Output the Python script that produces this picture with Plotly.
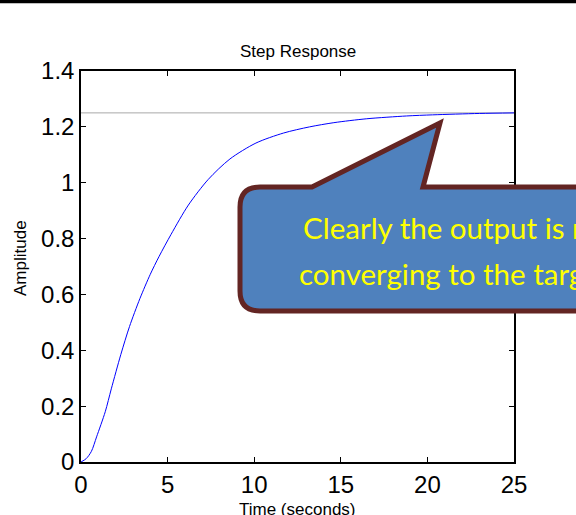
import plotly.graph_objects as go

# ---- data ----
time_s = [0, 0.3, 0.6, 0.9, 1.4, 1.75, 2.3, 2.8, 3.4, 4.0, 4.5, 5.2, 6.2,
          7.35, 8.6, 10.1, 11.7, 13.2, 14.6, 16.5, 18.8, 20.3, 23.0, 25]
amplitude = [0, 0.012, 0.038, 0.09, 0.18, 0.262, 0.385, 0.485, 0.585, 0.672, 0.735,
             0.815, 0.92, 1.012, 1.085, 1.142, 1.178, 1.200, 1.215, 1.229, 1.239,
             1.243, 1.248, 1.25]
final_value = 1.25
x_ticks = [0, 5, 10, 15, 20, 25]
x_tick_labels = ["0", "5", "10", "15", "20", "25"]
y_ticks = [0, 0.2, 0.4, 0.6, 0.8, 1.0, 1.2, 1.4]
y_tick_labels = ["0", "0.2", "0.4", "0.6", "0.8", "1", "1.2", "1.4"]
callout_lines = ["Clearly the output is not", "converging to the target"]

W, H = 576, 515
L, R, T, B = 81, 62, 71, 53
PW, PH = W - L - R, H - T - B


def px(x):
    return (x - L) / PW


def py(y):
    return (H - B - y) / PH


fig = go.Figure()
fig.add_trace(go.Scatter(x=[time_s[0], time_s[-1]], y=[final_value, final_value],
                         mode="lines", line=dict(color="#a8a8a8", width=1),
                         hoverinfo="skip", showlegend=False))
fig.add_trace(go.Scatter(x=time_s, y=amplitude, mode="lines",
                         line=dict(color="#0000ff", width=1, shape="spline", smoothing=0.8),
                         showlegend=False))

axis_common = dict(showline=True, linecolor="black", linewidth=1.5, mirror="ticks",
                   ticks="inside", ticklen=5, tickcolor="black", tickwidth=1,
                   showgrid=False, zeroline=False,
                   tickfont=dict(family="Liberation Sans, Arial", size=24, color="black"))
fig.update_xaxes(range=[0, 25], tickvals=x_ticks, ticktext=x_tick_labels, **axis_common)
fig.update_yaxes(range=[0, 1.4], tickvals=y_ticks, ticktext=y_tick_labels, **axis_common)

# callout bubble
r = 20
x0, x1 = 240, 620
y0, y1 = 187, 311
path = (f"M {px(x0 + r)},{py(y0)} L {px(312)},{py(y0)} L {px(440)},{py(123)} "
        f"L {px(423)},{py(y0)} L {px(x1)},{py(y0)} L {px(x1)},{py(y1)} "
        f"L {px(x0 + r)},{py(y1)} Q {px(x0)},{py(y1)} {px(x0)},{py(y1 - r)} "
        f"L {px(x0)},{py(y0 + r)} Q {px(x0)},{py(y0)} {px(x0 + r)},{py(y0)} Z")
fig.add_shape(type="path", path=path, xref="paper", yref="paper",
              fillcolor="#4f81bd", line=dict(color="#632523", width=5), layer="above")
# top black rule
fig.add_shape(type="line", xref="paper", yref="paper", x0=px(-10), x1=px(600),
              y0=py(1.5), y1=py(1.5), line=dict(color="black", width=3.5), layer="above")

txt = dict(family="Liberation Sans, Arial", size=17, color="black")
fig.add_annotation(text="Step Response", xref="paper", yref="paper", x=0.5, y=py(51),
                   xanchor="center", yanchor="middle", showarrow=False, font=txt)
fig.add_annotation(text="Time (seconds)", xref="paper", yref="paper", x=0.5, y=py(510),
                   xanchor="center", yanchor="middle", showarrow=False, font=txt)
fig.add_annotation(text="Amplitude", xref="paper", yref="paper", x=px(20), y=py(258),
                   xanchor="center", yanchor="middle", showarrow=False, textangle=-90,
                   font=txt)
cfont = dict(family="Lato", size=29.5, color="#ffff00")
fig.add_annotation(text=callout_lines[0], xref="paper", yref="paper", x=px(301), y=py(227),
                   xanchor="left", yanchor="middle", showarrow=False, font=cfont)
fig.add_annotation(text=callout_lines[1], xref="paper", yref="paper", x=px(297), y=py(273),
                   xanchor="left", yanchor="middle", showarrow=False, font=cfont)

fig.update_layout(width=W, height=H, margin=dict(l=L, r=R, t=T, b=B),
                  paper_bgcolor="white", plot_bgcolor="white", showlegend=False)
fig.write_html("out.html", config={"displayModeBar": False},
               post_script="document.body.style.margin='0';document.body.style.overflow='hidden';")
